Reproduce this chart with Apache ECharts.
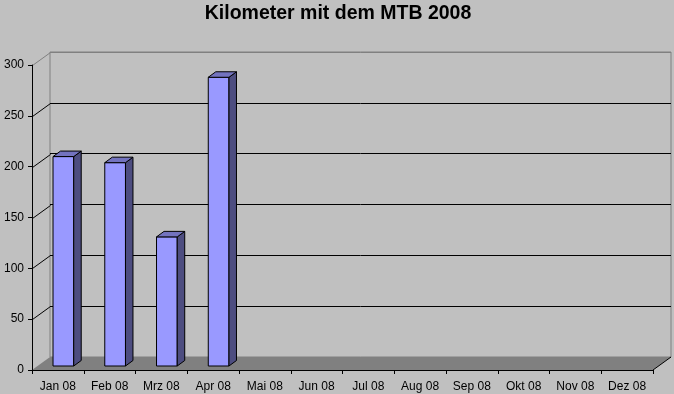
<!DOCTYPE html>
<html>
<head>
<meta charset="utf-8">
<style>html,body{margin:0;padding:0;background:#C0C0C0;}#chart{width:674px;height:394px;}</style>
<script src="https://cdn.jsdelivr.net/npm/echarts@6/dist/echarts.min.js"></script>
</head>
<body>
<div id="chart"></div>
<script>
const titleText = 'Kilometer mit dem MTB 2008';
const categories = ['Jan 08','Feb 08','Mrz 08','Apr 08','Mai 08','Jun 08','Jul 08','Aug 08','Sep 08','Okt 08','Nov 08','Dez 08'];
const kmValues = [206, 200, 127, 284, null, null, null, null, null, null, null, null];
const yTicks = [0, 50, 100, 150, 200, 250, 300];

const DX = 18, DY = -13;          // depth of the 3D box
const BAR_OFF_X = 5.5, BAR_OFF_Y = -4; // bar front face depth
const BAR_DX = 7.5, BAR_DY = -5.5;    // bar depth

const barData = [];
kmValues.forEach((v, i) => { if (v !== null) barData.push([categories[i], v]); });

const chart = echarts.init(document.getElementById('chart'), null, {renderer: 'canvas'});
const font = 'Arial, "Liberation Sans", sans-serif';

chart.setOption({
  backgroundColor: '#C0C0C0',
  animation: false,
  title: {
    text: titleText, left: 333, top: -1, textAlign: 'center',
    textStyle: {fontFamily: font, fontSize: 19.5, fontWeight: 'bold', color: '#000'}
  },
  grid: [
    {left: 32, top: 65, width: 621, height: 305, show: false},
    {left: 50, top: 52, width: 621, height: 305, show: true, borderColor: '#808080', borderWidth: 1, backgroundColor: 'transparent'}
  ],
  xAxis: [
    {type: 'category', gridIndex: 0, data: categories, z: 5,
     axisLine: {lineStyle: {color: '#000', width: 1}},
     axisTick: {show: true, length: 4, lineStyle: {color: '#000'}},
     axisLabel: {color: '#000', fontFamily: font, fontSize: 12, margin: 11, interval: 0},
     splitLine: {show: false}},
    {type: 'category', gridIndex: 1, data: categories, show: false}
  ],
  yAxis: [
    {type: 'value', gridIndex: 0, min: 0, max: 300, interval: 50, z: 5,
     axisLine: {show: true, lineStyle: {color: '#000', width: 1}},
     axisTick: {show: true, length: 4, lineStyle: {color: '#000'}},
     axisLabel: {color: '#000', fontFamily: font, fontSize: 12, margin: 8},
     splitLine: {show: false}},
    {type: 'value', gridIndex: 1, min: 0, max: 300, interval: 50,
     axisLine: {show: false}, axisTick: {show: false}, axisLabel: {show: false},
     splitLine: {show: true, lineStyle: {color: ['#000', '#000', '#000', '#000', '#000', '#000', '#808080'], width: 1}}}
  ],
  series: [
    {
      type: 'custom', xAxisIndex: 0, yAxisIndex: 0, clip: false, z: 2,
      data: [[categories[0], 0]],
      renderItem: function (params, api) {
        const cs = params.coordSys;
        const yb = api.coord([categories[0], 0])[1];
        const x0 = cs.x, x1 = cs.x + cs.width;
        return {
          type: 'group',
          children: [
            {type: 'polygon', shape: {points: [[x0, yb], [x1, yb], [x1 + DX, yb + DY], [x0 + DX, yb + DY]]},
             style: {fill: '#808080', stroke: null}},
            {type: 'line', shape: {x1: x1, y1: yb, x2: x1 + DX, y2: yb + DY},
             style: {stroke: '#000', lineWidth: 1}}
          ]
        };
      }
    },
    {
      type: 'custom', xAxisIndex: 0, yAxisIndex: 0, clip: false, z: 3,
      data: yTicks.filter(t => t > 0).map(t => [categories[0], t]),
      renderItem: function (params, api) {
        const cs = params.coordSys;
        const v = api.value(1);
        const y = Math.round(api.coord([categories[0], v])[1]) + 0.5;
        const x = cs.x + 0.5;
        return {type: 'line', shape: {x1: x, y1: y, x2: x + DX, y2: y + DY},
          style: {stroke: v === 300 ? '#808080' : '#000', lineWidth: 1}};
      }
    },
    {
      type: 'custom', xAxisIndex: 0, yAxisIndex: 0, clip: false, z: 4,
      data: barData,
      renderItem: function (params, api) {
        const c = api.coord([api.value(0), api.value(1)]);
        const b = api.coord([api.value(0), 0]);
        const w = api.size([1, 0])[0] * 0.4;
        const xl = c[0] + BAR_OFF_X - w / 2, xr = c[0] + BAR_OFF_X + w / 2;
        const yt = c[1] + BAR_OFF_Y, yb = b[1] + BAR_OFF_Y;
        const st = {stroke: '#000', lineWidth: 1};
        return {
          type: 'group',
          children: [
            {type: 'polygon', shape: {points: [[xl, yb], [xr, yb], [xr, yt], [xl, yt]]},
             style: Object.assign({fill: '#9999FF'}, st)},
            {type: 'polygon', shape: {points: [[xr, yb], [xr + BAR_DX, yb + BAR_DY], [xr + BAR_DX, yt + BAR_DY], [xr, yt]]},
             style: Object.assign({fill: '#4D4D80'}, st)},
            {type: 'polygon', shape: {points: [[xl, yt], [xr, yt], [xr + BAR_DX, yt + BAR_DY], [xl + BAR_DX, yt + BAR_DY]]},
             style: Object.assign({fill: '#7373BF'}, st)}
          ]
        };
      }
    }
  ]
});
</script>
</body>
</html>
